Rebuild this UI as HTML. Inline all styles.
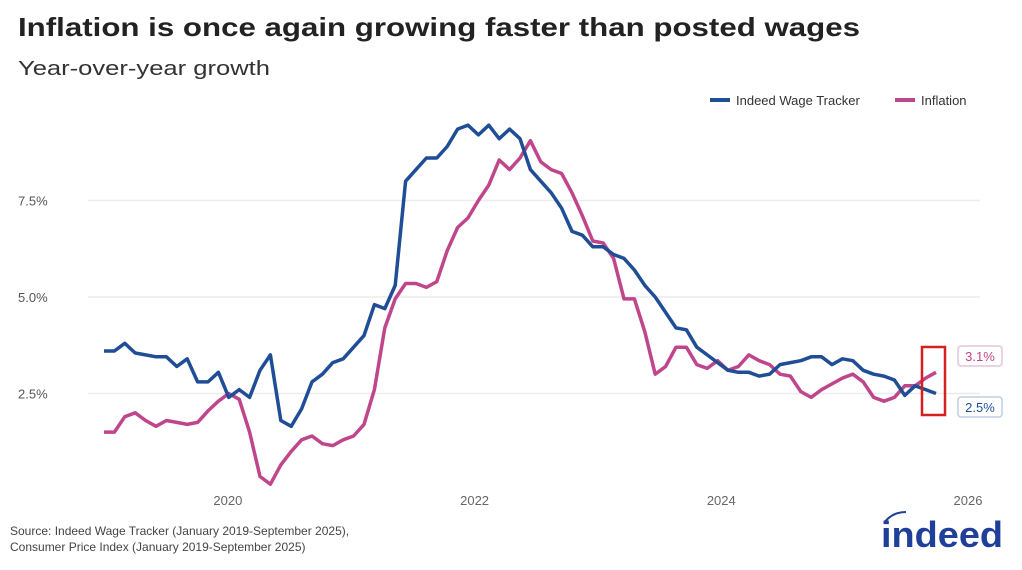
<!DOCTYPE html>
<html><head><meta charset="utf-8"><style>
body{margin:0;background:#fff;}
svg{display:block;font-family:"Liberation Sans",sans-serif;}
</style></head><body>
<svg id="chart" width="1022" height="570" viewBox="0 0 1022 570">
<text x="18" y="36" font-size="26" font-weight="bold" fill="#222" textLength="842" lengthAdjust="spacingAndGlyphs">Inflation is once again growing faster than posted wages</text>
<text x="18" y="75" font-size="20" fill="#333" textLength="252" lengthAdjust="spacingAndGlyphs">Year-over-year growth</text>
<g>
<line x1="710" y1="100" x2="730" y2="100" stroke="#1f4e96" stroke-width="4"/>
<text x="736" y="105" font-size="13" fill="#333">Indeed Wage Tracker</text>
<line x1="895" y1="100" x2="915" y2="100" stroke="#c0468c" stroke-width="4"/>
<text x="921" y="105" font-size="13" fill="#333">Inflation</text>
</g>
<g id="grid"></g><g id="axes"></g><g id="series"></g>
<rect x="922" y="347" width="23" height="68" fill="none" stroke="#d42020" stroke-width="2.5"/>
<g>
<rect x="958" y="346" width="44" height="20" rx="3" fill="#fff" stroke="#e3c3d6" stroke-width="1.5"/>
<text x="980" y="361" font-size="13" fill="#c0468c" text-anchor="middle">3.1%</text></g>
<g>
<rect x="958" y="397" width="44" height="20" rx="3" fill="#fff" stroke="#c0cfe3" stroke-width="1.5"/>
<text x="980" y="412" font-size="13" fill="#1f4e96" text-anchor="middle">2.5%</text></g>
<text x="10" y="535" font-size="12" fill="#444">Source: Indeed Wage Tracker (January 2019-September 2025),</text>
<text x="10" y="551" font-size="12" fill="#444">Consumer Price Index (January 2019-September 2025)</text>
<text x="1003" y="547" font-size="36" font-weight="bold" fill="#1f3f99" text-anchor="end" textLength="122" lengthAdjust="spacingAndGlyphs">indeed</text>
<path d="M884 523 Q892 512 906 512" fill="none" stroke="#1f3f99" stroke-width="2"/>
</svg>
<script>
const wage=[3.6,3.6,3.8,3.55,3.5,3.45,3.45,3.2,3.4,2.8,2.8,3.05,
2.4,2.6,2.4,3.1,3.5,1.8,1.65,2.1,2.8,3.0,3.3,3.4,
3.7,4.0,4.8,4.7,5.3,8.0,8.3,8.6,8.6,8.9,9.35,9.45,
9.2,9.45,9.1,9.35,9.1,8.3,8.0,7.7,7.3,6.7,6.6,6.3,
6.3,6.1,6.0,5.7,5.3,5.0,4.6,4.2,4.15,3.7,3.5,3.3,
3.1,3.05,3.05,2.95,3.0,3.25,3.3,3.35,3.45,3.45,3.25,3.4,
3.35,3.1,3.0,2.95,2.85,2.45,2.7,2.6,2.5];
const inflation=[1.5,1.5,1.9,2.0,1.8,1.65,1.8,1.75,1.7,1.75,2.05,2.3,
2.5,2.35,1.5,0.35,0.15,0.65,1.0,1.3,1.4,1.2,1.15,1.3,
1.4,1.7,2.6,4.2,4.95,5.35,5.35,5.25,5.4,6.2,6.8,7.05,
7.5,7.9,8.55,8.3,8.6,9.05,8.5,8.3,8.2,7.7,7.1,6.45,
6.4,6.0,4.95,4.95,4.1,3.0,3.2,3.7,3.7,3.25,3.15,3.35,
3.1,3.2,3.5,3.35,3.25,3.0,2.95,2.55,2.4,2.6,2.75,2.9,
3.0,2.8,2.4,2.3,2.4,2.7,2.7,2.9,3.05];
const yTicks=[2.5,5.0,7.5];
const yTickLabels=["2.5%","5.0%","7.5%"];
const xTicks=[2020,2022,2024,2026];
const NS="http://www.w3.org/2000/svg";
function x(m){return 104+m*10.4;}
function xYear(yr){return 104.5+(yr-2019)*12*10.28;}
function y(v){return 490-v*38.6;}
function mk(tag,attrs,parent){const e=document.createElementNS(NS,tag);for(const k in attrs)e.setAttribute(k,attrs[k]);document.getElementById(parent).appendChild(e);return e;}
yTicks.forEach((t,i)=>{
 const l=mk('line',{x1:88,x2:980,y1:y(t),y2:y(t),stroke:'#ececec','stroke-width':1.5},'grid');
 
 
 const tx=mk('text',{x:18,y:y(t)+5,'font-size':13,fill:'#555'},'axes');
 tx.textContent=yTickLabels[i];
 
 
});
xTicks.forEach(t=>{
 const tx=mk('text',{x:xYear(t),y:505,'font-size':13,fill:'#666','text-anchor':'middle'},'axes');
 tx.textContent=String(t);
 
 
});
function line(data,color,name){
 const d=data.map((v,i)=>(i?'L':'M')+x(i).toFixed(1)+' '+y(v).toFixed(1)).join(' ');
 const p=mk('path',{d:d,fill:'none',stroke:color,'stroke-width':3.5,'stroke-linejoin':'round'},'series');
 
 
}
line(inflation,'#c0468c','inflation-line');
line(wage,'#1f4e96','wage-tracker-line');
</script>
</body></html>
